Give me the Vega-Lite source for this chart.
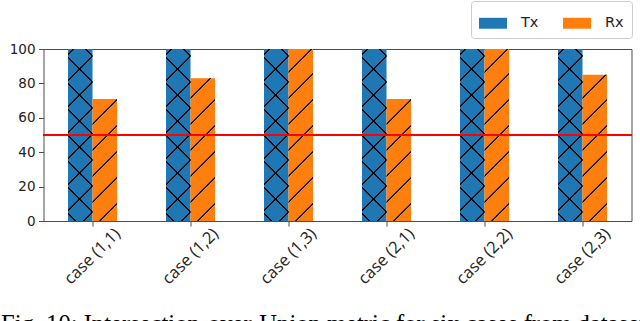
{
  "$schema": "https://vega.github.io/schema/vega-lite/v6.json",
  "width": 588,
  "height": 172,
  "autosize": {"type": "none"},
  "padding": {"left": 43.5, "top": 49, "right": 8.5, "bottom": 100},
  "background": "white",
  "title": {
    "text": "Fig. 10: Intersection-over-Union metric for six cases from dataset",
    "orient": "bottom",
    "anchor": "start",
    "frame": "group",
    "font": "Liberation Serif",
    "fontSize": 24.6,
    "fontWeight": "normal",
    "color": "#000000",
    "dx": -42.5,
    "offset": 26
  },
  "data": {
    "values": [
      {"case": "case (1,1)", "series": "Tx", "value": 100},
      {"case": "case (1,2)", "series": "Tx", "value": 100},
      {"case": "case (1,3)", "series": "Tx", "value": 100},
      {"case": "case (2,1)", "series": "Tx", "value": 100},
      {"case": "case (2,2)", "series": "Tx", "value": 100},
      {"case": "case (2,3)", "series": "Tx", "value": 100},
      {"case": "case (1,1)", "series": "Rx", "value": 71},
      {"case": "case (1,2)", "series": "Rx", "value": 83},
      {"case": "case (1,3)", "series": "Rx", "value": 100},
      {"case": "case (2,1)", "series": "Rx", "value": 71},
      {"case": "case (2,2)", "series": "Rx", "value": 100},
      {"case": "case (2,3)", "series": "Rx", "value": 85}
    ]
  },
  "layer": [
    {
      "mark": {"type": "bar"},
      "encoding": {
        "x": {
          "field": "case",
          "type": "nominal",
          "sort": null,
          "scale": {"paddingInner": 0.5, "paddingOuter": 0.25},
          "axis": {
            "title": null,
            "labelAngle": -45,
            "labelAlign": "center",
            "labelBaseline": "middle",
            "labelPadding": 30,
            "labelOverlap": false,
            "tickSize": 5,
            "tickColor": "#4d4d4d",
            "domain": false,
            "grid": false,
            "labelFont": "Open Sans",
            "labelFontSize": 16.5,
            "labelColor": "#222222"
          }
        },
        "xOffset": {
          "field": "series",
          "type": "nominal",
          "scale": {"domain": ["Tx", "Rx"], "paddingInner": 0, "paddingOuter": 0}
        },
        "y": {
          "field": "value",
          "type": "quantitative",
          "stack": null,
          "scale": {"domain": [0, 100], "nice": false},
          "axis": {
            "title": null,
            "values": [0, 20, 40, 60, 80, 100],
            "labelOverlap": false,
            "labelFlush": false,
            "tickSize": 5,
            "tickColor": "#4d4d4d",
            "labelPadding": 3.5,
            "labelFont": "DejaVu Sans",
            "labelFontSize": 13.5,
            "labelColor": "#222222",
            "domain": false,
            "grid": false
          }
        },
        "color": {
          "field": "series",
          "type": "nominal",
          "scale": {"domain": ["Tx", "Rx"], "range": ["#1f77b4", "#ff7f0e"]},
          "legend": {
            "title": null,
            "orient": "none",
            "legendX": 427.5,
            "legendY": -48,
            "direction": "horizontal",
            "symbolType": "M-1,-0.39H1V0.39H-1Z",
            "symbolSize": 784,
            "symbolStrokeWidth": 0,
            "symbolOpacity": 1,
            "labelFont": "DejaVu Sans",
            "labelFontSize": 14.5,
            "labelColor": "#222222",
            "labelOffset": 14,
            "columnPadding": 24,
            "padding": 8,
            "strokeColor": "#cccccc",
            "fillColor": "white",
            "cornerRadius": 3
          }
        }
      }
    },
    {
      "transform": [{"filter": "datum.series === 'Tx'"}],
      "mark": {
        "type": "bar",
        "fill": {
          "gradient": "linear", "x1": 0, "y1": 0, "x2": 0.1595, "y2": 1.1197,
          "stops": [
            {"offset": 0, "color": "rgba(0,0,0,0)"},
            {"offset": 0.02239, "color": "rgba(0,0,0,0)"}, {"offset": 0.02595, "color": "#000"}, {"offset": 0.03104, "color": "#000"}, {"offset": 0.03461, "color": "rgba(0,0,0,0)"},
            {"offset": 0.15471, "color": "rgba(0,0,0,0)"}, {"offset": 0.15827, "color": "#000"}, {"offset": 0.16336, "color": "#000"}, {"offset": 0.16692, "color": "rgba(0,0,0,0)"},
            {"offset": 0.28702, "color": "rgba(0,0,0,0)"}, {"offset": 0.29059, "color": "#000"}, {"offset": 0.29567, "color": "#000"}, {"offset": 0.29924, "color": "rgba(0,0,0,0)"},
            {"offset": 0.41934, "color": "rgba(0,0,0,0)"}, {"offset": 0.4229, "color": "#000"}, {"offset": 0.42799, "color": "#000"}, {"offset": 0.43155, "color": "rgba(0,0,0,0)"},
            {"offset": 0.55165, "color": "rgba(0,0,0,0)"}, {"offset": 0.55522, "color": "#000"}, {"offset": 0.56031, "color": "#000"}, {"offset": 0.56387, "color": "rgba(0,0,0,0)"},
            {"offset": 0.68397, "color": "rgba(0,0,0,0)"}, {"offset": 0.68753, "color": "#000"}, {"offset": 0.69262, "color": "#000"}, {"offset": 0.69618, "color": "rgba(0,0,0,0)"},
            {"offset": 0.81628, "color": "rgba(0,0,0,0)"}, {"offset": 0.81985, "color": "#000"}, {"offset": 0.82494, "color": "#000"}, {"offset": 0.8285, "color": "rgba(0,0,0,0)"},
            {"offset": 0.9486, "color": "rgba(0,0,0,0)"}, {"offset": 0.95216, "color": "#000"}, {"offset": 0.95725, "color": "#000"}, {"offset": 0.96081, "color": "rgba(0,0,0,0)"},
            {"offset": 1, "color": "rgba(0,0,0,0)"}
          ]
        }
      },
      "encoding": {
        "x": {"field": "case", "type": "nominal", "sort": null},
        "xOffset": {"field": "series", "type": "nominal"},
        "y": {
          "field": "value", "type": "quantitative", "stack": null,
          "axis": {"title": null, "values": [0, 20, 40, 60, 80, 100], "labelOverlap": false, "labelFlush": false, "tickSize": 5, "tickColor": "#4d4d4d", "labelPadding": 3.5, "labelFont": "DejaVu Sans", "labelFontSize": 13.5, "labelColor": "#222222", "domain": false, "grid": false}
        }
      }
    },
    {
      "transform": [{"filter": "datum.series === 'Tx'"}],
      "mark": {
        "type": "bar",
        "fill": {
          "gradient": "linear", "x1": 0, "y1": 1, "x2": 0.1595, "y2": -0.1197,
          "stops": [
            {"offset": 0, "color": "rgba(0,0,0,0)"},
            {"offset": 0.03257, "color": "rgba(0,0,0,0)"}, {"offset": 0.03613, "color": "#000"}, {"offset": 0.04122, "color": "#000"}, {"offset": 0.04478, "color": "rgba(0,0,0,0)"},
            {"offset": 0.16489, "color": "rgba(0,0,0,0)"}, {"offset": 0.16845, "color": "#000"}, {"offset": 0.17354, "color": "#000"}, {"offset": 0.1771, "color": "rgba(0,0,0,0)"},
            {"offset": 0.2972, "color": "rgba(0,0,0,0)"}, {"offset": 0.30076, "color": "#000"}, {"offset": 0.30585, "color": "#000"}, {"offset": 0.30941, "color": "rgba(0,0,0,0)"},
            {"offset": 0.42952, "color": "rgba(0,0,0,0)"}, {"offset": 0.43308, "color": "#000"}, {"offset": 0.43817, "color": "#000"}, {"offset": 0.44173, "color": "rgba(0,0,0,0)"},
            {"offset": 0.56183, "color": "rgba(0,0,0,0)"}, {"offset": 0.56539, "color": "#000"}, {"offset": 0.57048, "color": "#000"}, {"offset": 0.57405, "color": "rgba(0,0,0,0)"},
            {"offset": 0.69415, "color": "rgba(0,0,0,0)"}, {"offset": 0.69771, "color": "#000"}, {"offset": 0.7028, "color": "#000"}, {"offset": 0.70636, "color": "rgba(0,0,0,0)"},
            {"offset": 0.82646, "color": "rgba(0,0,0,0)"}, {"offset": 0.83003, "color": "#000"}, {"offset": 0.83511, "color": "#000"}, {"offset": 0.83868, "color": "rgba(0,0,0,0)"},
            {"offset": 0.95878, "color": "rgba(0,0,0,0)"}, {"offset": 0.96234, "color": "#000"}, {"offset": 0.96743, "color": "#000"}, {"offset": 0.97099, "color": "rgba(0,0,0,0)"},
            {"offset": 1, "color": "rgba(0,0,0,0)"}
          ]
        }
      },
      "encoding": {
        "x": {"field": "case", "type": "nominal", "sort": null},
        "xOffset": {"field": "series", "type": "nominal"},
        "y": {
          "field": "value", "type": "quantitative", "stack": null,
          "axis": {"title": null, "values": [0, 20, 40, 60, 80, 100], "labelOverlap": false, "labelFlush": false, "tickSize": 5, "tickColor": "#4d4d4d", "labelPadding": 3.5, "labelFont": "DejaVu Sans", "labelFontSize": 13.5, "labelColor": "#222222", "domain": false, "grid": false}
        }
      }
    },
    {
      "transform": [{"filter": "datum.series === 'Rx'"}],
      "mark": {"type": "bar"},
      "encoding": {
        "x": {"field": "case", "type": "nominal", "sort": null},
        "xOffset": {"field": "series", "type": "nominal"},
        "y": {
          "field": "value", "type": "quantitative", "stack": null,
          "axis": {"title": null, "values": [0, 20, 40, 60, 80, 100], "labelOverlap": false, "labelFlush": false, "tickSize": 5, "tickColor": "#4d4d4d", "labelPadding": 3.5, "labelFont": "DejaVu Sans", "labelFontSize": 13.5, "labelColor": "#222222", "domain": false, "grid": false}
        },
        "fill": {
          "condition": [
            {
              "test": "datum.value === 71",
              "value": {
                "gradient": "linear", "x1": 0, "y1": 0, "x2": 0.23155, "y2": 1.15417,
                "stops": [
                  {"offset": 0, "color": "rgba(0,0,0,0)"},
                  {"offset": 0.16451, "color": "rgba(0,0,0,0)"}, {"offset": 0.16928, "color": "#000"}, {"offset": 0.1761, "color": "#000"}, {"offset": 0.18088, "color": "rgba(0,0,0,0)"},
                  {"offset": 0.34184, "color": "rgba(0,0,0,0)"}, {"offset": 0.34661, "color": "#000"}, {"offset": 0.35343, "color": "#000"}, {"offset": 0.3582, "color": "rgba(0,0,0,0)"},
                  {"offset": 0.51917, "color": "rgba(0,0,0,0)"}, {"offset": 0.52394, "color": "#000"}, {"offset": 0.53076, "color": "#000"}, {"offset": 0.53553, "color": "rgba(0,0,0,0)"},
                  {"offset": 0.6965, "color": "rgba(0,0,0,0)"}, {"offset": 0.70127, "color": "#000"}, {"offset": 0.70809, "color": "#000"}, {"offset": 0.71287, "color": "rgba(0,0,0,0)"},
                  {"offset": 0.87383, "color": "rgba(0,0,0,0)"}, {"offset": 0.8786, "color": "#000"}, {"offset": 0.88542, "color": "#000"}, {"offset": 0.89019, "color": "rgba(0,0,0,0)"},
                  {"offset": 1, "color": "rgba(0,0,0,0)"}
                ]
              }
            },
            {
              "test": "datum.value === 83",
              "value": {
                "gradient": "linear", "x1": 0, "y1": 0, "x2": 0.19532, "y2": 1.1381,
                "stops": [
                  {"offset": 0, "color": "rgba(0,0,0,0)"},
                  {"offset": 0.11216, "color": "rgba(0,0,0,0)"}, {"offset": 0.11635, "color": "#000"}, {"offset": 0.12232, "color": "#000"}, {"offset": 0.12651, "color": "rgba(0,0,0,0)"},
                  {"offset": 0.26761, "color": "rgba(0,0,0,0)"}, {"offset": 0.27179, "color": "#000"}, {"offset": 0.27777, "color": "#000"}, {"offset": 0.28196, "color": "rgba(0,0,0,0)"},
                  {"offset": 0.42305, "color": "rgba(0,0,0,0)"}, {"offset": 0.42724, "color": "#000"}, {"offset": 0.43322, "color": "#000"}, {"offset": 0.4374, "color": "rgba(0,0,0,0)"},
                  {"offset": 0.5785, "color": "rgba(0,0,0,0)"}, {"offset": 0.58268, "color": "#000"}, {"offset": 0.58866, "color": "#000"}, {"offset": 0.59285, "color": "rgba(0,0,0,0)"},
                  {"offset": 0.73395, "color": "rgba(0,0,0,0)"}, {"offset": 0.73813, "color": "#000"}, {"offset": 0.74411, "color": "#000"}, {"offset": 0.74829, "color": "rgba(0,0,0,0)"},
                  {"offset": 0.88939, "color": "rgba(0,0,0,0)"}, {"offset": 0.89358, "color": "#000"}, {"offset": 0.89956, "color": "#000"}, {"offset": 0.90374, "color": "rgba(0,0,0,0)"},
                  {"offset": 1, "color": "rgba(0,0,0,0)"}
                ]
              }
            },
            {
              "test": "datum.value === 85",
              "value": {
                "gradient": "linear", "x1": 0, "y1": 0, "x2": 0.19032, "y2": 1.13568,
                "stops": [
                  {"offset": 0, "color": "rgba(0,0,0,0)"},
                  {"offset": 0.13005, "color": "rgba(0,0,0,0)"}, {"offset": 0.13415, "color": "#000"}, {"offset": 0.14001, "color": "#000"}, {"offset": 0.14411, "color": "rgba(0,0,0,0)"},
                  {"offset": 0.28237, "color": "rgba(0,0,0,0)"}, {"offset": 0.28647, "color": "#000"}, {"offset": 0.29232, "color": "#000"}, {"offset": 0.29642, "color": "rgba(0,0,0,0)"},
                  {"offset": 0.43468, "color": "rgba(0,0,0,0)"}, {"offset": 0.43878, "color": "#000"}, {"offset": 0.44464, "color": "#000"}, {"offset": 0.44874, "color": "rgba(0,0,0,0)"},
                  {"offset": 0.58699, "color": "rgba(0,0,0,0)"}, {"offset": 0.59109, "color": "#000"}, {"offset": 0.59695, "color": "#000"}, {"offset": 0.60105, "color": "rgba(0,0,0,0)"},
                  {"offset": 0.7393, "color": "rgba(0,0,0,0)"}, {"offset": 0.74341, "color": "#000"}, {"offset": 0.74926, "color": "#000"}, {"offset": 0.75336, "color": "rgba(0,0,0,0)"},
                  {"offset": 0.89162, "color": "rgba(0,0,0,0)"}, {"offset": 0.89572, "color": "#000"}, {"offset": 0.90158, "color": "#000"}, {"offset": 0.90568, "color": "rgba(0,0,0,0)"},
                  {"offset": 1, "color": "rgba(0,0,0,0)"}
                ]
              }
            }
          ],
          "value": {
            "gradient": "linear", "x1": 0, "y1": 0, "x2": 0.1595, "y2": 1.1197,
            "stops": [
              {"offset": 0, "color": "rgba(0,0,0,0)"},
              {"offset": 0.11196, "color": "rgba(0,0,0,0)"}, {"offset": 0.11552, "color": "#000"}, {"offset": 0.12061, "color": "#000"}, {"offset": 0.12417, "color": "rgba(0,0,0,0)"},
              {"offset": 0.24427, "color": "rgba(0,0,0,0)"}, {"offset": 0.24784, "color": "#000"}, {"offset": 0.25293, "color": "#000"}, {"offset": 0.25649, "color": "rgba(0,0,0,0)"},
              {"offset": 0.37659, "color": "rgba(0,0,0,0)"}, {"offset": 0.38015, "color": "#000"}, {"offset": 0.38524, "color": "#000"}, {"offset": 0.3888, "color": "rgba(0,0,0,0)"},
              {"offset": 0.50891, "color": "rgba(0,0,0,0)"}, {"offset": 0.51247, "color": "#000"}, {"offset": 0.51756, "color": "#000"}, {"offset": 0.52112, "color": "rgba(0,0,0,0)"},
              {"offset": 0.64122, "color": "rgba(0,0,0,0)"}, {"offset": 0.64478, "color": "#000"}, {"offset": 0.64987, "color": "#000"}, {"offset": 0.65344, "color": "rgba(0,0,0,0)"},
              {"offset": 0.77354, "color": "rgba(0,0,0,0)"}, {"offset": 0.7771, "color": "#000"}, {"offset": 0.78219, "color": "#000"}, {"offset": 0.78575, "color": "rgba(0,0,0,0)"},
              {"offset": 0.90585, "color": "rgba(0,0,0,0)"}, {"offset": 0.90941, "color": "#000"}, {"offset": 0.9145, "color": "#000"}, {"offset": 0.91807, "color": "rgba(0,0,0,0)"},
              {"offset": 1, "color": "rgba(0,0,0,0)"}
            ]
          }
        }
      }
    },
    {
      "mark": {"type": "rule", "color": "#ff0000", "strokeWidth": 1.5},
      "encoding": {
        "y": {
          "datum": 50, "type": "quantitative",
          "axis": {"title": null, "values": [0, 20, 40, 60, 80, 100], "labelOverlap": false, "labelFlush": false, "tickSize": 5, "tickColor": "#4d4d4d", "labelPadding": 3.5, "labelFont": "DejaVu Sans", "labelFontSize": 13.5, "labelColor": "#222222", "domain": false, "grid": false}
        }
      }
    }
  ],
  "config": {
    "view": {"stroke": "#4d4d4d", "strokeWidth": 1},
    "axis": {"tickWidth": 1}
  }
}
